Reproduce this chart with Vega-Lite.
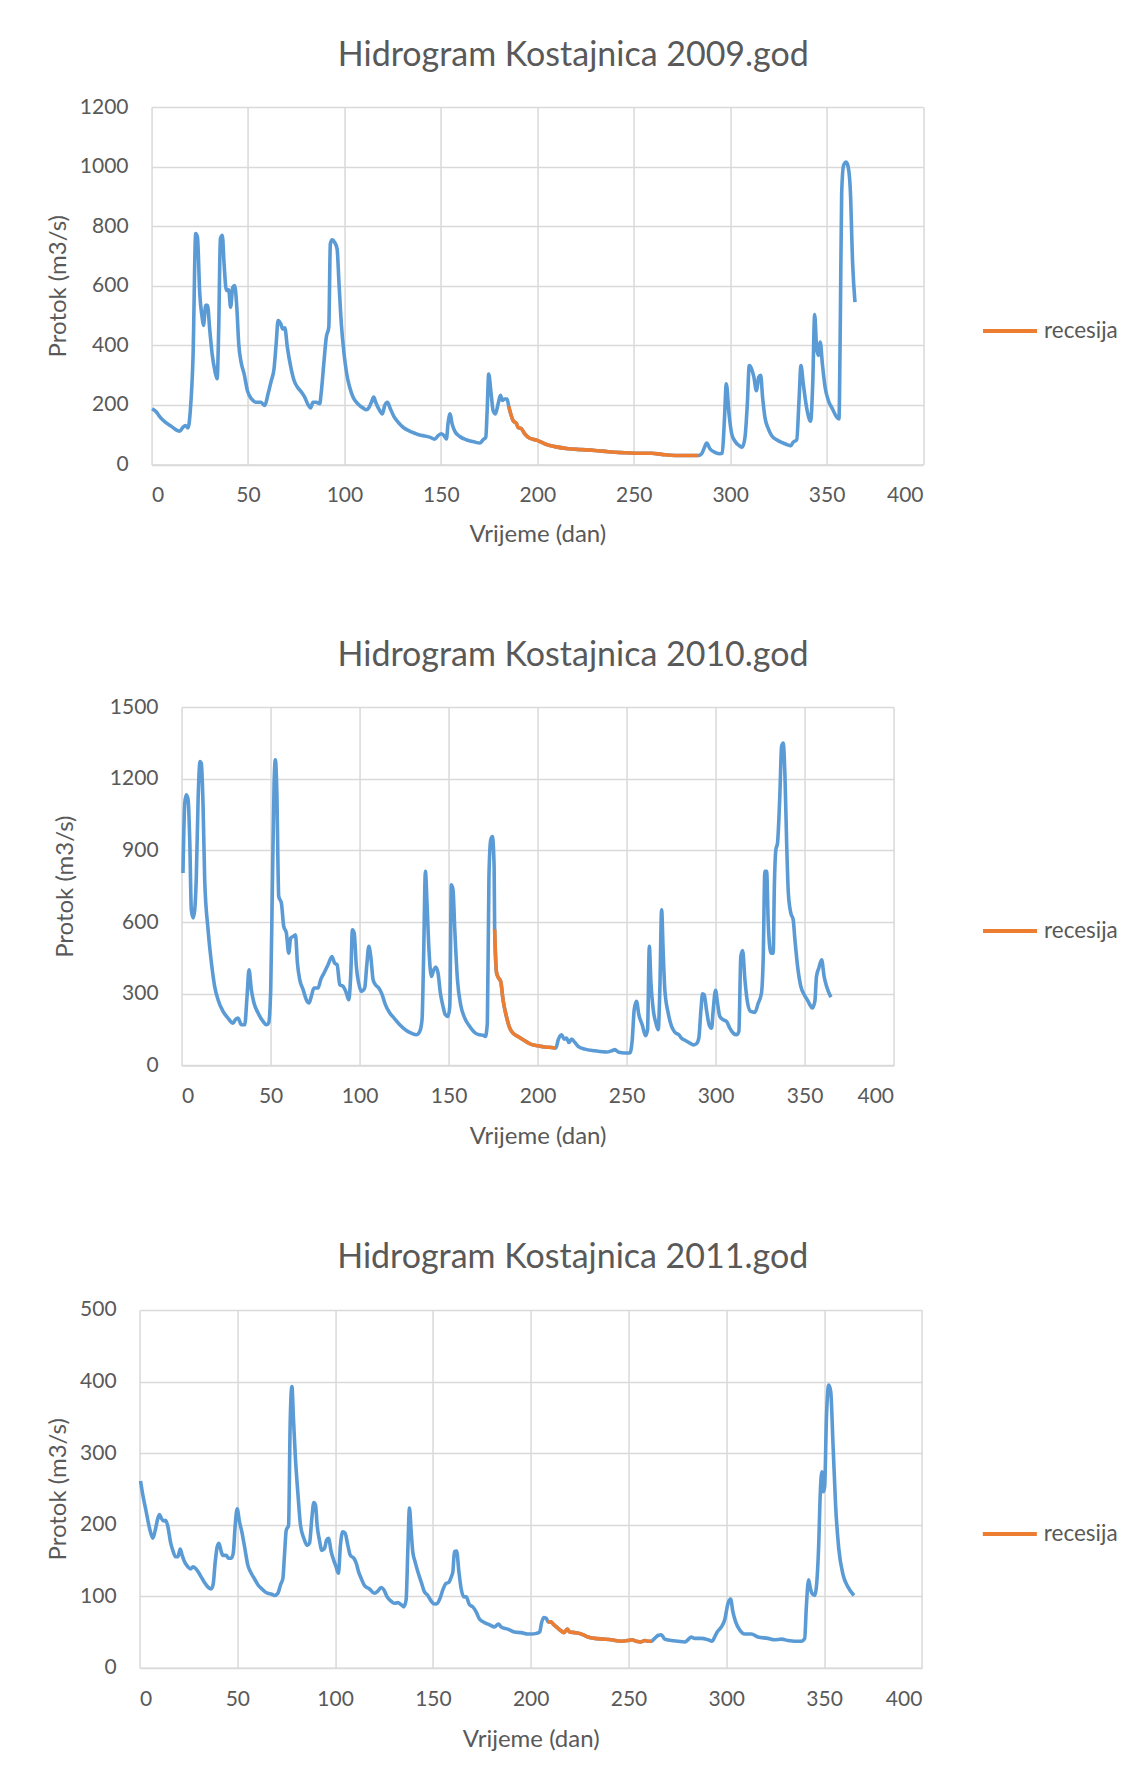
{
  "$schema": "https://vega.github.io/schema/vega-lite/v6.json",
  "background": "white",
  "padding": {"left": 46.3, "top": 38, "right": 0, "bottom": 0},
  "spacing": 92,
  "center": true,
  "resolve": {"scale": {"color": "independent"}, "legend": {"color": "independent"}},
  "config": {
    "font": "Lato",
    "view": {"stroke": null},
    "axis": {
      "labelColor": "#595959", "titleColor": "#595959",
      "labelFont": "Lato", "titleFont": "Lato",
      "labelFontSize": 21, "titleFontSize": 24, "titleFontWeight": "normal",
      "gridColor": "#d9d9d9", "gridWidth": 1.5,
      "domainColor": "#d9d9d9", "domainWidth": 1.5,
      "ticks": false
    },
    "title": {"fontSize": 34, "fontWeight": "normal", "color": "#595959", "font": "Lato"},
    "legend": {"labelColor": "#595959", "labelFont": "Lato", "labelFontSize": 22.5}
  },
  "datasets": {
    "d2009": [
      {"dan":0.3,"protok":187},{"dan":2.5,"protok":176},{"dan":4.2,"protok":161},{"dan":6.8,"protok":144},{"dan":10.3,"protok":128},{"dan":13.4,"protok":114},{"dan":14.6,"protok":112},{"dan":16.3,"protok":125},{"dan":17.5,"protok":131},{"dan":18.9,"protok":123},
      {"dan":20.1,"protok":181},{"dan":21.5,"protok":360},{"dan":22.9,"protok":775},{"dan":23.8,"protok":763},{"dan":25,"protok":573},{"dan":26.2,"protok":495},{"dan":26.9,"protok":467},{"dan":28.1,"protok":534},{"dan":29,"protok":534},{"dan":30.2,"protok":450},
      {"dan":31.4,"protok":372},{"dan":32.8,"protok":316},{"dan":34,"protok":288},{"dan":34.8,"protok":450},{"dan":35.7,"protok":758},{"dan":36.7,"protok":769},{"dan":37.6,"protok":674},{"dan":38.8,"protok":584},{"dan":40,"protok":586},{"dan":41,"protok":528},
      {"dan":42.1,"protok":595},{"dan":43.1,"protok":601},{"dan":44.2,"protok":528},{"dan":45.2,"protok":405},{"dan":46.6,"protok":338},{"dan":48,"protok":304},{"dan":49.7,"protok":248},{"dan":51.8,"protok":220},{"dan":54.4,"protok":209},{"dan":56.6,"protok":209},
      {"dan":58.7,"protok":198},{"dan":60.4,"protok":237},{"dan":62.1,"protok":282},{"dan":63.5,"protok":321},{"dan":64.6,"protok":405},{"dan":65.6,"protok":483},{"dan":67,"protok":472},{"dan":68,"protok":455},{"dan":69.1,"protok":459},{"dan":70.4,"protok":394},
      {"dan":72.2,"protok":327},{"dan":73.9,"protok":282},{"dan":75.6,"protok":260},{"dan":77.7,"protok":243},{"dan":79.4,"protok":226},{"dan":81.1,"protok":201},{"dan":82.5,"protok":190},{"dan":83.7,"protok":209},{"dan":85.4,"protok":209},{"dan":87.2,"protok":204},
      {"dan":88,"protok":243},{"dan":89.3,"protok":338},{"dan":90.6,"protok":427},{"dan":91.9,"protok":461},{"dan":92.7,"protok":741},{"dan":93.7,"protok":754},{"dan":94.9,"protok":746},{"dan":96.2,"protok":724},{"dan":97.2,"protok":606},{"dan":98.4,"protok":472},
      {"dan":99.8,"protok":372},{"dan":101.2,"protok":304},{"dan":102.7,"protok":260},{"dan":104.5,"protok":226},{"dan":106.2,"protok":209},{"dan":107.9,"protok":198},{"dan":109.6,"protok":190},{"dan":111.4,"protok":184},{"dan":112.6,"protok":190},{"dan":114,"protok":209},
      {"dan":115.2,"protok":226},{"dan":116.2,"protok":209},{"dan":117.8,"protok":187},{"dan":119.7,"protok":170},{"dan":120.9,"protok":198},{"dan":122.3,"protok":209},{"dan":123.8,"protok":187},{"dan":125.7,"protok":161},{"dan":127.8,"protok":142},{"dan":130.4,"protok":125},
      {"dan":133.3,"protok":114},{"dan":136.5,"protok":105},{"dan":139.6,"protok":98},{"dan":141.6,"protok":96},{"dan":144.2,"protok":92},{"dan":146.8,"protok":85},{"dan":148.6,"protok":97},{"dan":150.3,"protok":103},{"dan":152,"protok":94},{"dan":152.9,"protok":86},
      {"dan":153.7,"protok":137},{"dan":154.8,"protok":170},{"dan":155.8,"protok":137},{"dan":157.2,"protok":112},{"dan":159.8,"protok":94},{"dan":163.2,"protok":83},{"dan":166.7,"protok":77},{"dan":170.2,"protok":72},{"dan":171.9,"protok":83},{"dan":173.3,"protok":92},
      {"dan":174,"protok":181},{"dan":174.8,"protok":304},{"dan":175.9,"protok":248},{"dan":177.1,"protok":181},{"dan":178.3,"protok":170},{"dan":179.7,"protok":204},{"dan":180.9,"protok":232},{"dan":181.9,"protok":215},{"dan":183.1,"protok":220},{"dan":184.3,"protok":220},
      {"dan":185.2,"protok":195,"recesija":true},{"dan":186,"protok":175,"recesija":true},{"dan":187.4,"protok":148,"recesija":true},{"dan":189.2,"protok":137,"recesija":true},{"dan":190,"protok":125,"recesija":true},{"dan":191.8,"protok":120,"recesija":true},{"dan":193.5,"protok":103,"recesija":true},{"dan":196.1,"protok":88,"recesija":true},{"dan":200,"protok":81,"recesija":true},{"dan":204,"protok":69,"recesija":true},
      {"dan":209.2,"protok":60,"recesija":true},{"dan":216.1,"protok":53,"recesija":true},{"dan":223,"protok":50,"recesija":true},{"dan":229.9,"protok":47,"recesija":true},{"dan":236.8,"protok":43,"recesija":true},{"dan":243.7,"protok":40,"recesija":true},{"dan":250.6,"protok":38,"recesija":true},{"dan":259.3,"protok":38,"recesija":true},{"dan":264.5,"protok":34,"recesija":true},{"dan":271.4,"protok":30,"recesija":true},
      {"dan":283.5,"protok":30,"recesija":true},
      {"dan":285.2,"protok":36},{"dan":286.6,"protok":56},{"dan":287.8,"protok":72},{"dan":289.5,"protok":53},{"dan":292.1,"protok":41},{"dan":294.7,"protok":36},{"dan":295.9,"protok":38},{"dan":297,"protok":148},{"dan":298,"protok":271},{"dan":299.4,"protok":170},
      {"dan":300.8,"protok":103},{"dan":302.5,"protok":78},{"dan":304.6,"protok":64},{"dan":306.3,"protok":58},{"dan":307.7,"protok":92},{"dan":308.9,"protok":204},{"dan":309.9,"protok":332},{"dan":311.1,"protok":321},{"dan":312.3,"protok":293},{"dan":313.6,"protok":248},
      {"dan":314.8,"protok":293},{"dan":315.8,"protok":299},{"dan":316.8,"protok":226},{"dan":318,"protok":159},{"dan":319.8,"protok":120},{"dan":321.5,"protok":97},{"dan":324.1,"protok":83},{"dan":326.7,"protok":74},{"dan":329.3,"protok":67},{"dan":331.4,"protok":63},
      {"dan":332.7,"protok":75},{"dan":334.5,"protok":83},{"dan":335.7,"protok":215},{"dan":336.7,"protok":332},{"dan":337.9,"protok":271},{"dan":339.6,"protok":192},{"dan":341.7,"protok":145},{"dan":342.8,"protok":271},{"dan":343.8,"protok":503},{"dan":344.8,"protok":394},
      {"dan":345.7,"protok":366},{"dan":346.7,"protok":411},{"dan":347.8,"protok":338},{"dan":349.2,"protok":260},{"dan":350.9,"protok":215},{"dan":353,"protok":187},{"dan":355.2,"protok":159},{"dan":356.4,"protok":153},{"dan":357.1,"protok":472},{"dan":357.8,"protok":909},
      {"dan":358.8,"protok":1004},{"dan":360.2,"protok":1015},{"dan":361.2,"protok":998},{"dan":362.3,"protok":920},{"dan":363.5,"protok":674},{"dan":364.7,"protok":545}
    ],
    "d2010": [
      {"dan":0.8,"protok":805},{"dan":1.8,"protok":1098},{"dan":2.7,"protok":1133},{"dan":3.7,"protok":1112},{"dan":4.6,"protok":944},{"dan":5.5,"protok":651},{"dan":6.5,"protok":617},{"dan":7.4,"protok":651},{"dan":8.3,"protok":791},{"dan":9.3,"protok":1112},
      {"dan":10.4,"protok":1272},{"dan":11.1,"protok":1265},{"dan":12.1,"protok":1084},{"dan":13,"protok":777},{"dan":14.9,"protok":568},{"dan":16.8,"protok":428},{"dan":18.6,"protok":331},{"dan":20.5,"protok":275},{"dan":23.3,"protok":226},{"dan":26.1,"protok":198},
      {"dan":28.9,"protok":177},{"dan":30.2,"protok":191},{"dan":31.7,"protok":198},{"dan":33.6,"protok":170},{"dan":35.5,"protok":170},{"dan":36.8,"protok":289},{"dan":37.9,"protok":400},{"dan":39.2,"protok":317},{"dan":40.7,"protok":261},{"dan":43,"protok":219},
      {"dan":45.8,"protok":184},{"dan":47.7,"protok":170},{"dan":48.9,"protok":177},{"dan":50.1,"protok":317},{"dan":51,"protok":735},{"dan":52,"protok":1182},{"dan":52.7,"protok":1279},{"dan":53.5,"protok":1154},{"dan":54.6,"protok":707},{"dan":56.1,"protok":679},
      {"dan":57.4,"protok":582},{"dan":58.9,"protok":554},{"dan":60.2,"protok":470},{"dan":61.3,"protok":533},{"dan":62.8,"protok":540},{"dan":64,"protok":547},{"dan":65.1,"protok":428},{"dan":66.4,"protok":359},{"dan":68.3,"protok":317},{"dan":70.1,"protok":275},
      {"dan":71.6,"protok":261},{"dan":72.9,"protok":289},{"dan":74.4,"protok":324},{"dan":76.7,"protok":324},{"dan":78.2,"protok":359},{"dan":80,"protok":386},{"dan":82.3,"protok":421},{"dan":84.5,"protok":456},{"dan":86,"protok":428},{"dan":87.4,"protok":421},
      {"dan":88.9,"protok":338},{"dan":90.7,"protok":331},{"dan":92.6,"protok":303},{"dan":93.9,"protok":275},{"dan":95.1,"protok":386},{"dan":96,"protok":568},{"dan":97,"protok":554},{"dan":98.2,"protok":414},{"dan":99.5,"protok":345},{"dan":101,"protok":310},
      {"dan":102.9,"protok":324},{"dan":104,"protok":414},{"dan":105.2,"protok":498},{"dan":106.3,"protok":456},{"dan":107.6,"protok":359},{"dan":108.9,"protok":338},{"dan":110.8,"protok":324},{"dan":112.7,"protok":296},{"dan":114.5,"protok":254},{"dan":117,"protok":219},
      {"dan":119.4,"protok":198},{"dan":122.6,"protok":170},{"dan":126.3,"protok":146},{"dan":129.1,"protok":135},{"dan":131.9,"protok":128},{"dan":133.8,"protok":142},{"dan":135.1,"protok":191},{"dan":136,"protok":456},{"dan":137,"protok":812},{"dan":137.9,"protok":679},
      {"dan":139,"protok":484},{"dan":140.4,"protok":372},{"dan":141.7,"protok":400},{"dan":142.8,"protok":412},{"dan":144.1,"protok":386},{"dan":145.4,"protok":303},{"dan":146.9,"protok":247},{"dan":148.2,"protok":212},{"dan":149.7,"protok":205},{"dan":150.7,"protok":247},
      {"dan":151.6,"protok":756},{"dan":152.5,"protok":735},{"dan":153.5,"protok":568},{"dan":155,"protok":359},{"dan":156.8,"protok":254},{"dan":159.1,"protok":198},{"dan":161.9,"protok":163},{"dan":165.1,"protok":135},{"dan":167.5,"protok":128},{"dan":169.4,"protok":126},
      {"dan":170.7,"protok":121},{"dan":171.8,"protok":177},{"dan":172.7,"protok":791},{"dan":173.7,"protok":944},{"dan":174.6,"protok":958},{"dan":175.6,"protok":833},
      {"dan":175.9,"protok":570,"recesija":true},{"dan":177,"protok":386,"recesija":true},{"dan":178.2,"protok":365,"recesija":true},{"dan":179.3,"protok":351,"recesija":true},{"dan":180.6,"protok":275,"recesija":true},{"dan":182.5,"protok":205,"recesija":true},{"dan":184.4,"protok":156,"recesija":true},{"dan":186.2,"protok":135,"recesija":true},{"dan":189,"protok":121,"recesija":true},{"dan":192.8,"protok":103,"recesija":true},
      {"dan":196.5,"protok":88,"recesija":true},{"dan":200.3,"protok":82,"recesija":true},{"dan":204.1,"protok":77,"recesija":true},{"dan":207.9,"protok":75,"recesija":true},{"dan":210.3,"protok":73,"recesija":true},
      {"dan":211.6,"protok":107},{"dan":213.5,"protok":128},{"dan":215,"protok":110},{"dan":216.3,"protok":114},{"dan":217.6,"protok":96},{"dan":219.1,"protok":110},{"dan":221,"protok":96},{"dan":222.8,"protok":80},{"dan":226.6,"protok":68},{"dan":232.2,"protok":61},
      {"dan":238.8,"protok":56},{"dan":241.6,"protok":61},{"dan":243.4,"protok":66},{"dan":245.3,"protok":56},{"dan":249.1,"protok":52},{"dan":251.9,"protok":52},{"dan":253.2,"protok":107},{"dan":254.3,"protok":233},{"dan":255.6,"protok":268},{"dan":256.9,"protok":212},
      {"dan":258.8,"protok":170},{"dan":260.7,"protok":124},{"dan":261.8,"protok":149},{"dan":262.8,"protok":498},{"dan":263.7,"protok":345},{"dan":265,"protok":233},{"dan":266.5,"protok":177},{"dan":267.8,"protok":149},{"dan":268.7,"protok":317},{"dan":269.7,"protok":651},
      {"dan":270.6,"protok":470},{"dan":271.5,"protok":317},{"dan":273.4,"protok":219},{"dan":275.3,"protok":163},{"dan":277.2,"protok":138},{"dan":279.4,"protok":128},{"dan":280.9,"protok":114},{"dan":282.8,"protok":105},{"dan":285.6,"protok":93},{"dan":287.5,"protok":86},
      {"dan":289.3,"protok":91},{"dan":290.6,"protok":114},{"dan":291.8,"protok":233},{"dan":292.7,"protok":300},{"dan":293.6,"protok":296},{"dan":294.9,"protok":233},{"dan":296.4,"protok":170},{"dan":297.8,"protok":156},{"dan":298.7,"protok":233},{"dan":300,"protok":314},
      {"dan":301.1,"protok":261},{"dan":302.4,"protok":205},{"dan":304.3,"protok":191},{"dan":306.2,"protok":184},{"dan":308,"protok":156},{"dan":309.9,"protok":135},{"dan":311.8,"protok":128},{"dan":313.1,"protok":142},{"dan":314.2,"protok":456},{"dan":315.2,"protok":481},
      {"dan":316.5,"protok":359},{"dan":318,"protok":261},{"dan":319.7,"protok":226},{"dan":322.1,"protok":222},{"dan":324,"protok":261},{"dan":325.8,"protok":303},{"dan":326.8,"protok":456},{"dan":327.7,"protok":812},{"dan":328.7,"protok":812},{"dan":329.6,"protok":596},
      {"dan":331.1,"protok":470},{"dan":332.4,"protok":470},{"dan":333,"protok":735},{"dan":333.9,"protok":903},{"dan":334.8,"protok":930},{"dan":336.1,"protok":1126},{"dan":337.1,"protok":1335},{"dan":338,"protok":1349},{"dan":339,"protok":1209},{"dan":339.9,"protok":944},
      {"dan":340.9,"protok":721},{"dan":342.3,"protok":637},{"dan":343.6,"protok":610},{"dan":344.6,"protok":526},{"dan":346.1,"protok":414},{"dan":347.9,"protok":331},{"dan":349.8,"protok":296},{"dan":351.5,"protok":275},{"dan":353,"protok":254},{"dan":354.3,"protok":240},
      {"dan":355.8,"protok":268},{"dan":356.7,"protok":372},{"dan":358,"protok":407},{"dan":359.6,"protok":442},{"dan":361,"protok":372},{"dan":362.4,"protok":330},{"dan":364.8,"protok":285}
    ],
    "d2011": [
      {"dan":0.5,"protok":261},{"dan":1.7,"protok":241},{"dan":3.4,"protok":218},{"dan":5.1,"protok":195},{"dan":6.8,"protok":181},{"dan":8,"protok":192},{"dan":9.4,"protok":209},{"dan":10.2,"protok":214},{"dan":11.1,"protok":209},{"dan":12.3,"protok":205},
      {"dan":13.3,"protok":206},{"dan":14.5,"protok":197},{"dan":15.8,"protok":176},{"dan":17,"protok":164},{"dan":18.4,"protok":155},{"dan":19.6,"protok":155},{"dan":20.8,"protok":166},{"dan":21.8,"protok":157},{"dan":23,"protok":148},{"dan":24.7,"protok":141},
      {"dan":26.1,"protok":138},{"dan":27.3,"protok":141},{"dan":28.6,"protok":139},{"dan":30.2,"protok":133},{"dan":31.5,"protok":127},{"dan":33.2,"protok":119},{"dan":34.9,"protok":113},{"dan":36.6,"protok":110},{"dan":37.6,"protok":116},{"dan":38.7,"protok":148},
      {"dan":39.7,"protok":169},{"dan":40.6,"protok":174},{"dan":41.8,"protok":162},{"dan":42.6,"protok":157},{"dan":44.3,"protok":157},{"dan":45.5,"protok":153},{"dan":46.9,"protok":153},{"dan":47.9,"protok":160},{"dan":48.9,"protok":199},{"dan":49.9,"protok":222},
      {"dan":51.1,"protok":204},{"dan":52.3,"protok":190},{"dan":53.7,"protok":169},{"dan":55.4,"protok":143},{"dan":57.1,"protok":132},{"dan":58.8,"protok":124},{"dan":60.5,"protok":116},{"dan":62.2,"protok":111},{"dan":64.2,"protok":106},{"dan":65.6,"protok":104},
      {"dan":67.3,"protok":103},{"dan":69,"protok":101},{"dan":70.7,"protok":104},{"dan":72.1,"protok":116},{"dan":73.3,"protok":125},{"dan":74.1,"protok":157},{"dan":75,"protok":192},{"dan":76.2,"protok":199},{"dan":77,"protok":339},{"dan":77.9,"protok":393},
      {"dan":78.7,"protok":348},{"dan":79.7,"protok":293},{"dan":80.9,"protok":246},{"dan":82.3,"protok":199},{"dan":84,"protok":181},{"dan":85.7,"protok":171},{"dan":86.9,"protok":174},{"dan":88.1,"protok":209},{"dan":89.1,"protok":231},{"dan":90,"protok":227},
      {"dan":90.8,"protok":199},{"dan":92,"protok":178},{"dan":93.2,"protok":164},{"dan":94.6,"protok":167},{"dan":95.6,"protok":178},{"dan":96.6,"protok":181},{"dan":98,"protok":162},{"dan":99.3,"protok":150},{"dan":100.5,"protok":141},{"dan":101.7,"protok":132},
      {"dan":102.7,"protok":171},{"dan":103.9,"protok":190},{"dan":105.1,"protok":188},{"dan":106.5,"protok":171},{"dan":107.8,"protok":157},{"dan":109.6,"protok":153},{"dan":110.8,"protok":146},{"dan":112,"protok":134},{"dan":113.3,"protok":125},{"dan":115,"protok":115},
      {"dan":117.6,"protok":110},{"dan":120.1,"protok":104},{"dan":121.8,"protok":107},{"dan":123.5,"protok":112},{"dan":124.9,"protok":109},{"dan":126.6,"protok":99},{"dan":128.6,"protok":93},{"dan":130.3,"protok":90},{"dan":132,"protok":91},{"dan":133.8,"protok":88},
      {"dan":135.1,"protok":85},{"dan":136.3,"protok":95},{"dan":137.2,"protok":167},{"dan":138,"protok":223},{"dan":138.9,"protok":190},{"dan":139.7,"protok":162},{"dan":140.9,"protok":148},{"dan":142.3,"protok":134},{"dan":144,"protok":120},{"dan":145.7,"protok":106},
      {"dan":147.4,"protok":101},{"dan":149.1,"protok":93},{"dan":150.8,"protok":89},{"dan":152.2,"protok":90},{"dan":153.9,"protok":99},{"dan":155.1,"protok":109},{"dan":156.8,"protok":118},{"dan":158,"protok":119},{"dan":159.4,"protok":127},{"dan":160.2,"protok":134},
      {"dan":161,"protok":162},{"dan":162.1,"protok":163},{"dan":163.3,"protok":134},{"dan":164.4,"protok":111},{"dan":165.8,"protok":99},{"dan":167,"protok":99},{"dan":168.7,"protok":88},{"dan":170.4,"protok":85},{"dan":172.1,"protok":78},{"dan":173.8,"protok":68},
      {"dan":176.4,"protok":63},{"dan":178.9,"protok":60},{"dan":181.5,"protok":57},{"dan":183.5,"protok":61},{"dan":184.9,"protok":57},{"dan":188.3,"protok":54},{"dan":191.7,"protok":50},{"dan":195.1,"protok":49},{"dan":198.5,"protok":47},{"dan":200.5,"protok":47},
      {"dan":202.9,"protok":48},{"dan":204.6,"protok":50},{"dan":205.5,"protok":62},{"dan":206.6,"protok":70},{"dan":208,"protok":69},
      {"dan":208.9,"protok":64,"recesija":true},{"dan":210.2,"protok":64,"recesija":true},{"dan":211.9,"protok":60,"recesija":true},{"dan":213.6,"protok":56,"recesija":true},{"dan":215.3,"protok":52,"recesija":true},{"dan":217,"protok":49,"recesija":true},{"dan":218.7,"protok":54,"recesija":true},{"dan":219.9,"protok":50,"recesija":true},{"dan":222.5,"protok":49,"recesija":true},{"dan":224.5,"protok":48,"recesija":true},
      {"dan":226.8,"protok":46,"recesija":true},{"dan":229.3,"protok":43,"recesija":true},{"dan":232.7,"protok":41,"recesija":true},{"dan":237,"protok":40,"recesija":true},{"dan":241.2,"protok":39,"recesija":true},{"dan":246.4,"protok":37,"recesija":true},{"dan":249.8,"protok":38,"recesija":true},{"dan":251.8,"protok":39,"recesija":true},{"dan":254,"protok":37,"recesija":true},{"dan":256.2,"protok":36,"recesija":true},
      {"dan":258.3,"protok":38,"recesija":true},{"dan":260,"protok":37,"recesija":true},{"dan":261.7,"protok":37,"recesija":true},
      {"dan":263.4,"protok":41},{"dan":265.1,"protok":45},{"dan":266.8,"protok":46},{"dan":268.5,"protok":40},{"dan":271.9,"protok":38},{"dan":275.3,"protok":37},{"dan":278.7,"protok":36},{"dan":280.4,"protok":39},{"dan":282.1,"protok":43},{"dan":283.8,"protok":41},
      {"dan":287.3,"protok":41},{"dan":290.7,"protok":39},{"dan":292.7,"protok":37},{"dan":294.1,"protok":43},{"dan":295.4,"protok":50},{"dan":297.5,"protok":57},{"dan":299.2,"protok":67},{"dan":300.9,"protok":90},{"dan":302.2,"protok":96},{"dan":303.4,"protok":78},
      {"dan":304.8,"protok":64},{"dan":306.8,"protok":53},{"dan":309.4,"protok":47},{"dan":312.8,"protok":47},{"dan":316.2,"protok":43},{"dan":321.3,"protok":41},{"dan":324.7,"protok":39},{"dan":328.2,"protok":40},{"dan":331.6,"protok":38},{"dan":335,"protok":37},
      {"dan":338.4,"protok":37},{"dan":340.1,"protok":41},{"dan":340.9,"protok":83},{"dan":342.1,"protok":123},{"dan":343,"protok":111},{"dan":343.8,"protok":104},{"dan":345.2,"protok":101},{"dan":346,"protok":111},{"dan":347.2,"protok":167},{"dan":348.1,"protok":246},
      {"dan":348.9,"protok":274},{"dan":349.6,"protok":246},{"dan":350.3,"protok":253},{"dan":351.2,"protok":348},{"dan":352.4,"protok":395},{"dan":353.4,"protok":386},{"dan":354.6,"protok":311},{"dan":355.9,"protok":227},{"dan":357.5,"protok":167},{"dan":359.7,"protok":130},
      {"dan":362.2,"protok":113},{"dan":365.3,"protok":101}
    ]
  },
  "vconcat": [
    {
      "width": 771.5, "height": 357.5,
      "title": {"text": "Hidrogram Kostajnica 2009.god", "anchor": "middle", "frame": "group", "dx": 36, "offset": 23.5},
      "data": {"name": "d2009"},
      "layer": [
        {
          "mark": {"type": "line", "color": "#5b9bd5", "strokeWidth": 3.6, "interpolate": "monotone"},
          "encoding": {
            "x": {"field": "dan", "type": "quantitative", "scale": {"domain": [0, 400], "nice": false},
                  "axis": {"title": "Vrijeme (dan)", "values": [0,50,100,150,200,250,300,350,400], "format": "d", "labelPadding": 19.5, "titlePadding": 17}},
            "y": {"field": "protok", "type": "quantitative", "scale": {"domain": [0, 1200], "nice": false},
                  "axis": {"title": "Protok (m3/s)", "values": [0,200,400,600,800,1000,1200], "format": "d", "domain": false, "labelPadding": 23.5, "titlePadding": 9}}
          }
        },
        {
          "transform": [{"filter": "datum.recesija"}],
          "mark": {"type": "line", "strokeWidth": 3.6, "interpolate": "monotone"},
          "encoding": {
            "x": {"field": "dan", "type": "quantitative"},
            "y": {"field": "protok", "type": "quantitative"},
            "color": {"datum": "recesija", "type": "nominal", "scale": {"range": ["#ed7d31"]},
                      "legend": {"title": null, "orient": "none", "legendX": 799.5, "legendY": 165, "symbolType": "stroke", "symbolSize": 2916, "symbolStrokeWidth": 4, "labelOffset": 5, "padding": 30}}
          }
        }
      ]
    },
    {
      "width": 712, "height": 358.4,
      "title": {"text": "Hidrogram Kostajnica 2010.god", "anchor": "middle", "frame": "group", "dx": 35.5, "offset": 23.5},
      "data": {"name": "d2010"},
      "layer": [
        {
          "mark": {"type": "line", "color": "#5b9bd5", "strokeWidth": 3.6, "interpolate": "monotone"},
          "encoding": {
            "x": {"field": "dan", "type": "quantitative", "scale": {"domain": [0, 400], "nice": false},
                  "axis": {"title": "Vrijeme (dan)", "values": [0,50,100,150,200,250,300,350,400], "format": "d", "labelPadding": 20.5, "titlePadding": 18}},
            "y": {"field": "protok", "type": "quantitative", "scale": {"domain": [0, 1500], "nice": false},
                  "axis": {"title": "Protok (m3/s)", "values": [0,300,600,900,1200,1500], "format": "d", "domain": false, "labelPadding": 23.5, "titlePadding": 32}}
          }
        },
        {
          "transform": [{"filter": "datum.recesija"}],
          "mark": {"type": "line", "strokeWidth": 3.6, "interpolate": "monotone"},
          "encoding": {
            "x": {"field": "dan", "type": "quantitative"},
            "y": {"field": "protok", "type": "quantitative"},
            "color": {"datum": "recesija", "type": "nominal", "scale": {"range": ["#ed7d31"]},
                      "legend": {"title": null, "orient": "none", "legendX": 799.5, "legendY": 195, "symbolType": "stroke", "symbolSize": 2916, "symbolStrokeWidth": 4, "labelOffset": 5, "padding": 0}}
          }
        }
      ]
    },
    {
      "width": 782.3, "height": 357.7,
      "title": {"text": "Hidrogram Kostajnica 2011.god", "anchor": "middle", "frame": "group", "dx": 42, "offset": 23.5},
      "data": {"name": "d2011"},
      "layer": [
        {
          "mark": {"type": "line", "color": "#5b9bd5", "strokeWidth": 3.6, "interpolate": "monotone"},
          "encoding": {
            "x": {"field": "dan", "type": "quantitative", "scale": {"domain": [0, 400], "nice": false},
                  "axis": {"title": "Vrijeme (dan)", "values": [0,50,100,150,200,250,300,350,400], "format": "d", "labelPadding": 20.5, "titlePadding": 18}},
            "y": {"field": "protok", "type": "quantitative", "scale": {"domain": [0, 500], "nice": false},
                  "axis": {"title": "Protok (m3/s)", "values": [0,100,200,300,400,500], "format": "d", "domain": false, "labelPadding": 23.5, "titlePadding": 9}}
          }
        },
        {
          "transform": [{"filter": "datum.recesija"}],
          "mark": {"type": "line", "strokeWidth": 3.6, "interpolate": "monotone"},
          "encoding": {
            "x": {"field": "dan", "type": "quantitative"},
            "y": {"field": "protok", "type": "quantitative"},
            "color": {"datum": "recesija", "type": "nominal", "scale": {"range": ["#ed7d31"]},
                      "legend": {"title": null, "orient": "none", "legendX": 799.5, "legendY": 153.2, "symbolType": "stroke", "symbolSize": 2916, "symbolStrokeWidth": 4, "labelOffset": 5, "padding": 41.8}}
          }
        }
      ]
    }
  ]
}
